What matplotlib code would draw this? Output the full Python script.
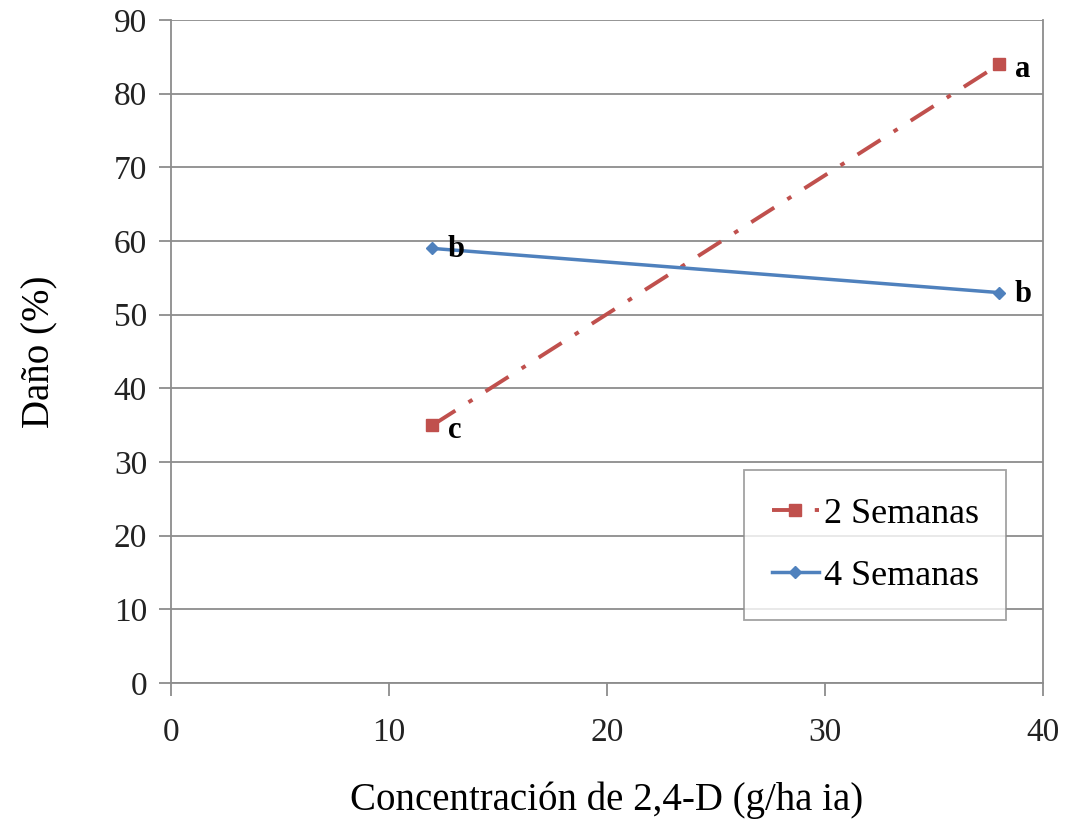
import matplotlib
matplotlib.use("Agg")
import matplotlib.pyplot as plt

# dosis de 2,4-D y daño observado
conc = [12, 38]
dano_2sem = [35, 84]
dano_4sem = [59, 53]
letras_2sem = ["c", "a"]
letras_4sem = ["b", "b"]

plt.rcParams['font.family'] = ['Liberation Serif', 'DejaVu Serif']

fig = plt.figure(figsize=(10.67, 8.21), dpi=100)
ax = fig.add_axes([0.160, 0.168, 0.8175, 0.8076])

gris = '#8c8c8c'
rojo = '#C0504D'
azul = '#4F81BD'

ax.plot(conc, dano_2sem, color=rojo, lw=2.8, linestyle=(0, (7, 4, 1.2, 4)),
        marker='s', markersize=9, label='2 Semanas')
ax.plot(conc, dano_4sem, color=azul, lw=2.5, marker='D', markersize=6.5,
        label='4 Semanas')

for x, y, t in zip(conc, dano_2sem, letras_2sem):
    ax.annotate(t, (x, y), xytext=(11, -4), textcoords='offset points',
                fontsize=22, fontweight='bold', va='center')
for x, y, t in zip(conc, dano_4sem, letras_4sem):
    ax.annotate(t, (x, y), xytext=(11, -1), textcoords='offset points',
                fontsize=22, fontweight='bold', va='center')

ax.set_xlim(0, 40)
ax.set_ylim(0, 90)
ax.set_xticks(range(0, 41, 10))
ax.set_yticks(range(0, 91, 10))
ax.yaxis.grid(True, color=gris, lw=1.3)
ax.set_axisbelow(True)

ax.spines['top'].set_visible(False)
for s in ['left', 'bottom', 'right']:
    ax.spines[s].set_color(gris)
    ax.spines[s].set_linewidth(1.3)

ax.tick_params(axis='both', colors=gris, width=1.3, length=9, labelsize=24,
               labelcolor='#222222')
ax.tick_params(axis='x', pad=16)
ax.tick_params(axis='y', pad=8)

ax.set_xlabel('Concentración de 2,4-D (g/ha ia)', fontsize=28, labelpad=24)
ax.set_ylabel('Daño (%)', fontsize=28, labelpad=40)

leg = ax.legend(loc='lower right', bbox_to_anchor=(0.9576, 0.095), fontsize=26,
                frameon=True, fancybox=False, borderpad=0.75, labelspacing=0.8,
                handlelength=1.3, handletextpad=0.15, borderaxespad=0)
leg.get_frame().set_edgecolor(gris)
leg.get_frame().set_linewidth(1.3)

fig.savefig('out.png', dpi=100)
